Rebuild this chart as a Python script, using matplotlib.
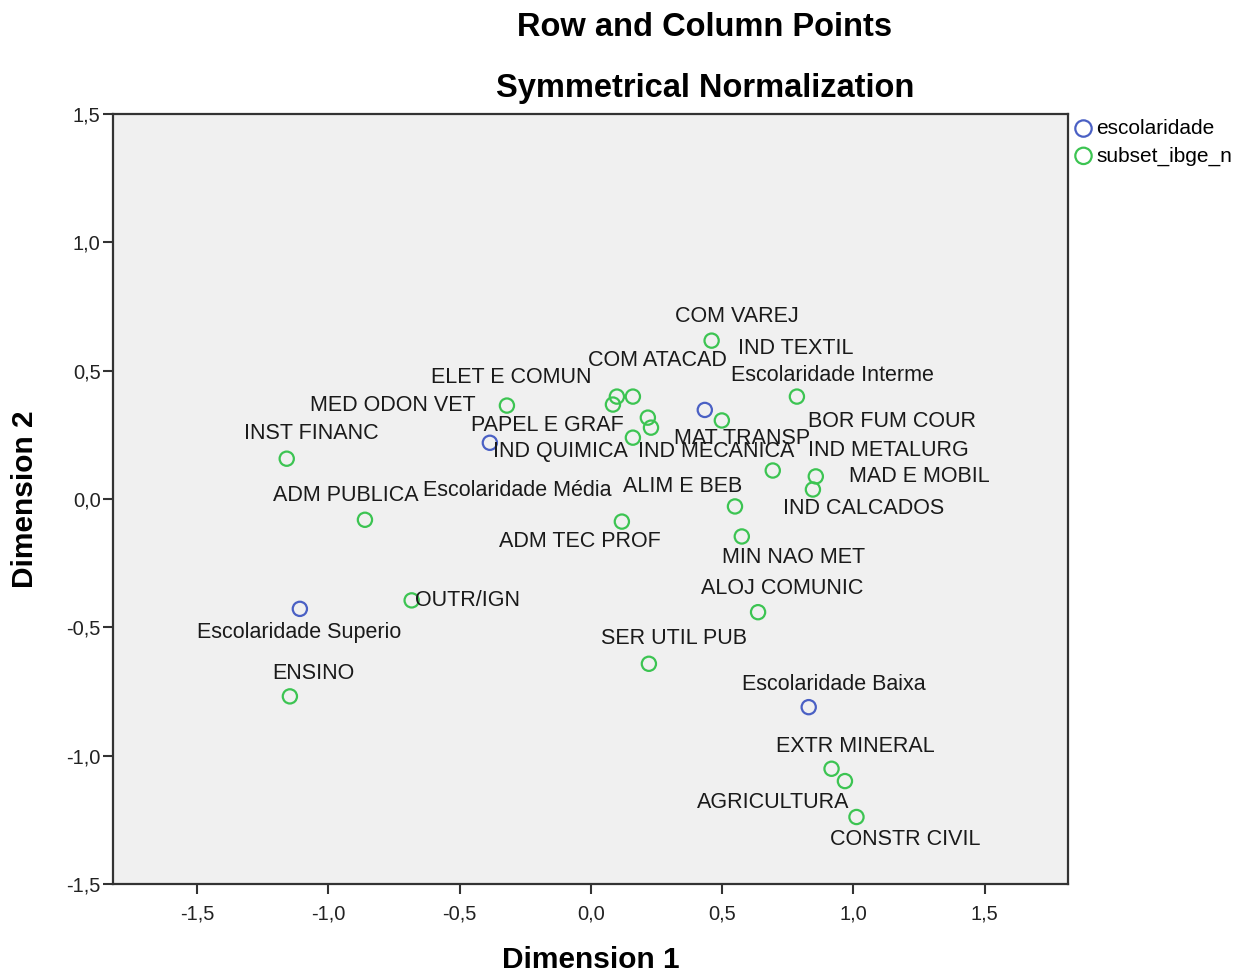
import matplotlib
matplotlib.use("Agg")
import matplotlib.pyplot as plt
from matplotlib.ticker import FuncFormatter

plt.rcParams['font.family'] = ['Liberation Sans', 'DejaVu Sans']

# pontos de linha (escolaridade)
esc_labels = ["Escolaridade Interme", "Escolaridade Média", "Escolaridade Superio", "Escolaridade Baixa"]
esc_x = [0.434, -0.385, -1.109, 0.830]
esc_y = [0.347, 0.219, -0.428, -0.811]

# pontos de coluna (subset_ibge_n)
ibge_labels = ["COM VAREJ", "IND TEXTIL", "COM ATACAD", "ELET E COMUN", "MED ODON VET",
               "PAPEL E GRAF", "IND QUIMICA", "IND MECANICA", "MAT TRANSP", "BOR FUM COUR",
               "IND METALURG", "MAD E MOBIL", "IND CALCADOS", "INST FINANC", "ADM PUBLICA",
               "ALIM E BEB", "ADM TEC PROF", "MIN NAO MET", "ALOJ COMUNIC", "OUTR/IGN",
               "SER UTIL PUB", "ENSINO", "EXTR MINERAL", "AGRICULTURA", "CONSTR CIVIL"]
ibge_x = [0.460, 0.499, 0.160, -0.320, 0.084,
          0.099, 0.160, 0.229, 0.217, 0.785,
          0.693, 0.857, 0.846, -1.159, -0.861,
          0.549, 0.118, 0.575, 0.637, -0.683,
          0.221, -1.147, 0.917, 0.968, 1.012]
ibge_y = [0.617, 0.306, 0.399, 0.364, 0.368,
          0.399, 0.239, 0.278, 0.317, 0.399,
          0.111, 0.088, 0.037, 0.157, -0.081,
          -0.029, -0.088, -0.146, -0.441, -0.395,
          -0.642, -0.769, -1.051, -1.099, -1.239]

# deslocamento dos rótulos (pixels)
esc_off = [(128, 34), (27, -48), (-1, -24), (25, 23)]
ibge_off = [(25, 24), (74, 72), (25, 36), (4, 28), (-220, -1),
            (-69, -29), (-72, -14), (65, -24), (94, -21), (95, -25),
            (116, 20), (104, 0), (51, -19), (25, 25), (-19, 24),
            (-52, 20), (-42, -20), (52, -21), (24, 24), (56, 0),
            (25, 25), (23, 23), (24, 22), (-72, -21), (49, -22)]

blue = '#4a60c4'
green = '#3cc452'

fig = plt.figure(figsize=(12.6, 9.74), dpi=100)
ax = fig.add_axes([113 / 1260, 1 - 884 / 974, 955 / 1260, 770 / 974])
ax.set_facecolor('#f0f0f0')

ax.scatter(esc_x, esc_y, s=105, facecolors='none', edgecolors=blue, linewidths=1.6,
           label='escolaridade', zorder=3)
ax.scatter(ibge_x, ibge_y, s=105, facecolors='none', edgecolors=green, linewidths=1.6,
           label='subset_ibge_n', zorder=3)

for lab, x, y, off in zip(esc_labels, esc_x, esc_y, esc_off):
    ax.annotate(lab, (x, y), xytext=off, textcoords='offset pixels',
                ha='center', va='center', fontsize=15.5, color='#1a1a1a')
for lab, x, y, off in zip(ibge_labels, ibge_x, ibge_y, ibge_off):
    ax.annotate(lab, (x, y), xytext=off, textcoords='offset pixels',
                ha='center', va='center', fontsize=15.5, color='#1a1a1a')

ax.set_xlim(-1.821, 1.818)
ax.set_ylim(-1.5, 1.5)
ax.set_xticks([-1.5, -1.0, -0.5, 0.0, 0.5, 1.0, 1.5])
ax.set_yticks([-1.5, -1.0, -0.5, 0.0, 0.5, 1.0, 1.5])
fmt = FuncFormatter(lambda v, p: "{:.1f}".format(v).replace('.', ','))
ax.xaxis.set_major_formatter(fmt)
ax.yaxis.set_major_formatter(fmt)
ax.tick_params(direction='out', length=7, width=1.5, color='#333333',
               labelsize=14.5, labelcolor='#222222')
ax.tick_params(axis='x', pad=8)
ax.tick_params(axis='y', pad=2)
for sp in ax.spines.values():
    sp.set_linewidth(1.6)
    sp.set_color('#333333')

fig.text(705 / 1260, 1 - 27 / 974, "Row and Column Points", ha='center', va='center',
         fontsize=23.5, fontweight='bold')
fig.text(705 / 1260, 1 - 88 / 974, "Symmetrical Normalization", ha='center', va='center',
         fontsize=23.5, fontweight='bold')
fig.text(591 / 1260, 1 - 960 / 974, "Dimension 1", ha='center', va='center',
         fontsize=21.5, fontweight='bold')
fig.text(25 / 1260, 1 - 499 / 974, "Dimension 2", ha='center', va='center',
         fontsize=21.5, fontweight='bold', rotation=90)

fig.legend(loc='upper left', bbox_to_anchor=(1071 / 1260, 1 - 119 / 974), frameon=False,
           fontsize=15, handletextpad=0.0, borderaxespad=0, borderpad=0,
           labelspacing=0.4, handlelength=1.2, markerscale=1.15)

fig.savefig('out.png', dpi=100)
